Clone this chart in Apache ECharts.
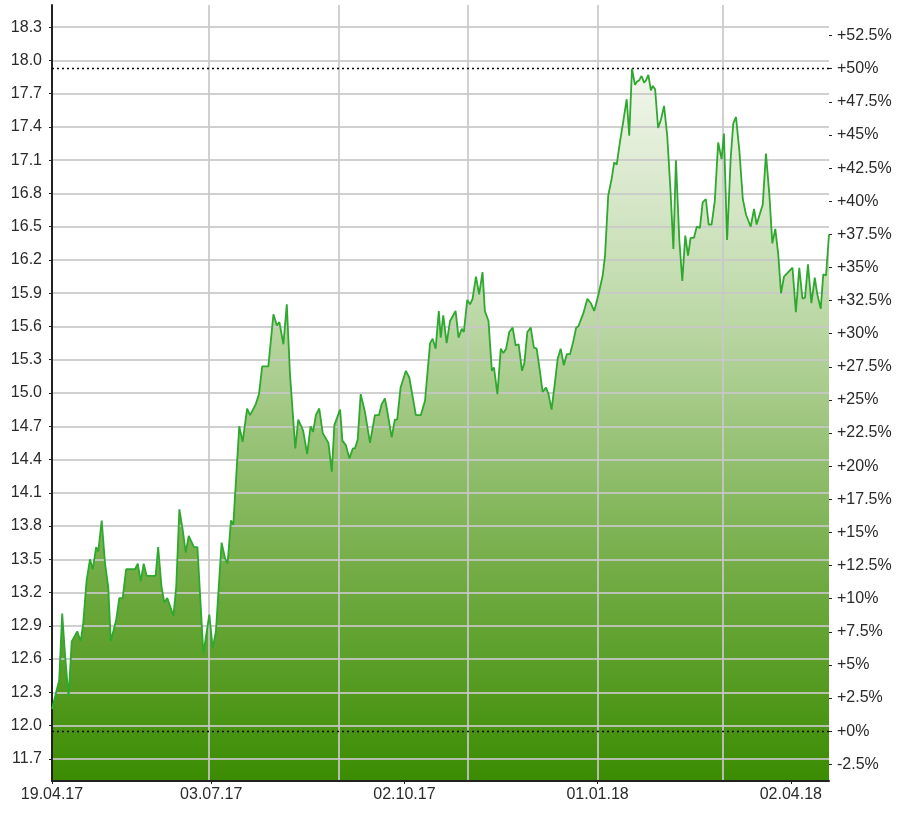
<!DOCTYPE html>
<html>
<head>
<meta charset="utf-8">
<script src="https://cdn.jsdelivr.net/npm/echarts@6/dist/echarts.min.js"></script>
<style>
html,body{margin:0;padding:0;background:#fff;}
#chart{width:904px;height:815px;}
</style>
</head>
<body>
<div id="chart"></div>
<script>
// ---- data ----
var startDate = '2017-04-19';
var endDayOffset = 366;
// day offsets (from startDate) of each plotted point
var dayOffsets = [
0,2.2,3.4,4.8,6.1,7.8,9.3,11.9,13.5,14.7,
16.3,17.9,19.2,20.8,21.8,23.4,25.0,26.5,27.7,30.2,
31.7,33.3,34.9,39.1,40.4,41.8,43.2,44.6,48.8,50.0,
51.6,52.9,54.3,57.2,58.5,60.0,61.6,63.0,64.4,66.9,
68.5,71.3,74.1,75.7,77.2,79.9,81.5,82.7,84.3,85.4,
88.2,89.8,91.9,93.3,96.0,97.5,99.0,101.9,104.3,105.9,
107.1,109.0,110.6,112.1,114.6,116.0,118.3,120.2,121.8,123.0,
124.3,125.9,127.5,130.2,131.8,133.0,135.7,136.8,138.4,140.1,
141.7,142.7,144.0,145.4,147.4,149.8,152.1,154.0,155.3,156.8,
157.9,160.0,161.5,162.6,164.2,166.7,168.3,171.4,173.7,175.7,
178.1,179.3,180.7,182.2,183.1,184.3,185.9,187.5,190.1,191.5,
193.0,194.0,195.6,196.9,198.1,199.7,201.2,202.8,203.9,205.6,
207.2,208.2,209.8,211.4,212.6,213.9,215.4,217.0,218.4,219.8,
221.4,222.5,223.9,225.5,227.0,228.3,229.8,231.1,232.7,233.9,
235.3,237.0,238.2,239.6,241.1,242.5,244.0,245.6,246.9,247.9,
250.3,252.2,253.8,255.4,257.3,259.4,260.5,262.0,263.6,264.8,
266.0,267.5,269.1,270.7,271.9,273.2,274.6,275.6,276.6,277.7,
278.9,279.8,280.9,282.1,283.0,284.1,285.5,286.9,288.3,289.8,
291.3,292.7,293.9,295.5,296.9,298.3,299.6,300.8,302.4,303.7,
305.2,306.5,308.0,309.3,310.7,312.2,313.8,315.4,316.5,318.0,
319.7,320.9,322.2,323.8,325.4,326.9,329.1,330.7,331.9,334.8,
336.3,337.9,339.3,340.7,342.1,343.4,344.8,346.8,348.8,350.4,
352.0,353.5,354.7,356.1,357.7,359.3,360.5,362.1,363.3,364.6,
366.0
];
var prices = [
12.15,12.32,12.41,13.01,12.65,12.26,12.76,12.85,12.76,12.92,
13.31,13.50,13.41,13.61,13.57,13.85,13.46,13.25,12.76,12.95,
13.15,13.15,13.41,13.41,13.46,13.30,13.46,13.35,13.35,13.61,
13.25,13.11,13.15,12.99,13.25,13.95,13.76,13.56,13.71,13.61,
13.61,12.65,13.00,12.70,12.85,13.65,13.51,13.46,13.85,13.81,
14.70,14.56,14.86,14.80,14.90,14.99,15.24,15.24,15.71,15.61,
15.64,15.44,15.80,15.17,14.50,14.76,14.66,14.45,14.70,14.65,
14.80,14.86,14.64,14.55,14.29,14.71,14.85,14.57,14.53,14.41,
14.50,14.50,14.58,14.99,14.83,14.55,14.80,14.80,14.90,14.95,
14.84,14.60,14.76,14.76,15.05,15.20,15.14,14.80,14.80,14.93,
15.45,15.49,15.40,15.74,15.50,15.70,15.45,15.65,15.74,15.50,
15.58,15.55,15.84,15.80,15.85,16.05,15.89,16.09,15.74,15.65,
15.20,15.23,14.99,15.40,15.36,15.40,15.55,15.59,15.43,15.44,
15.20,15.27,15.55,15.59,15.41,15.40,15.20,15.01,15.05,14.99,
14.85,15.11,15.31,15.40,15.25,15.35,15.35,15.47,15.59,15.60,
15.72,15.85,15.81,15.74,15.88,16.06,16.24,16.78,16.93,17.08,
17.06,17.26,17.45,17.65,17.32,17.925,17.78,17.81,17.82,17.86,
17.80,17.82,17.87,17.73,17.77,17.74,17.39,17.47,17.59,17.32,
16.84,16.30,17.10,16.38,16.01,16.42,16.24,16.40,16.40,16.50,
16.49,16.72,16.75,16.52,16.52,16.73,17.26,17.11,17.34,16.38,
17.12,17.43,17.49,17.18,16.75,16.61,16.50,16.66,16.52,16.70,
17.16,16.79,16.35,16.48,16.25,15.90,16.05,16.09,16.13,15.73,
16.13,15.85,15.86,16.16,15.81,16.04,15.89,15.76,16.07,16.06,
16.43
];
var basePrice = 11.95;     // 0% reference (lower dotted line)
var maxPrice = 17.925;     // period high (upper dotted line)
var priceMin = 11.5, priceMax = 18.5;
var priceTicks = [11.7,12.0,12.3,12.6,12.9,13.2,13.5,13.8,14.1,14.4,14.7,15.0,15.3,15.6,15.9,16.2,16.5,16.8,17.1,17.4,17.7,18.0,18.3];
var percentTicks = [-2.5,0,2.5,5,7.5,10,12.5,15,17.5,20,22.5,25,27.5,30,32.5,35,37.5,40,42.5,45,47.5,50,52.5];
var dateLabels = ['2017-04-19','2017-07-03','2017-10-02','2018-01-01','2018-04-02'];
var gridDates = ['2017-07-02','2017-09-01','2017-11-01','2018-01-01','2018-03-01'];

// ---- helpers ----
var DAY = 86400000;
function parseDate(s){var p=s.split('-');return Date.UTC(+p[0],+p[1]-1,+p[2]);}
var t0 = parseDate(startDate);
function pad(n){return (n<10?'0':'')+n;}
function fmtDate(v){var d=new Date(v);return pad(d.getUTCDate())+'.'+pad(d.getUTCMonth()+1)+'.'+pad(d.getUTCFullYear()%100);}
var seriesData = dayOffsets.map(function(d,i){return [t0+d*DAY, prices[i]];});
var xMin = t0, xMax = t0+endDayOffset*DAY;
var pctMin = (priceMin/basePrice-1)*100, pctMax = (priceMax/basePrice-1)*100;

var FONT = 'Liberation Sans, Arial, sans-serif';
var gridColor = 'rgba(200,200,200,0.85)';

var chart = echarts.init(document.getElementById('chart'), null, {renderer:'canvas'});
chart.setOption({
  animation:false,
  backgroundColor:'#fff',
  grid:{left:52,right:75,top:5,bottom:34,containLabel:false},
  xAxis:[{
    type:'value', min:xMin, max:xMax, position:'bottom', z:3,
    axisLine:{show:true,onZero:false,lineStyle:{color:'#222',width:2}},
    axisTick:{show:true,length:3,lineStyle:{color:'#222'},customValues:dateLabels.map(parseDate)},
    axisLabel:{show:true,customValues:dateLabels.map(parseDate),formatter:fmtDate,color:'#2a2a2a',fontSize:16,fontFamily:FONT,margin:6,hideOverlap:false},
    splitLine:{show:false}
  },{
    type:'value', min:xMin, max:xMax, position:'top', z:3,
    axisLine:{show:false},
    axisTick:{show:false,customValues:gridDates.map(parseDate)},
    axisLabel:{show:false},
    splitLine:{show:true,lineStyle:{color:gridColor,width:2}}
  }],
  yAxis:[{
    type:'value', min:priceMin, max:priceMax, position:'left', z:3,
    axisLine:{show:true,onZero:false,lineStyle:{color:'#222',width:2}},
    axisTick:{show:true,length:3,lineStyle:{color:'#222'},customValues:priceTicks},
    axisLabel:{customValues:priceTicks,formatter:function(v){return v.toFixed(1);},color:'#2a2a2a',fontSize:16,fontFamily:FONT,margin:10},
    splitLine:{show:true,lineStyle:{color:gridColor,width:2}}
  },{
    type:'value', min:pctMin, max:pctMax, position:'right', z:3,
    axisLine:{show:false},
    axisTick:{show:true,length:3,lineStyle:{color:'#222'},customValues:percentTicks},
    axisLabel:{customValues:percentTicks,formatter:function(v){return (v<0?'':'+')+v+'%';},color:'#2a2a2a',fontSize:16,fontFamily:FONT,margin:8},
    splitLine:{show:false}
  }],
  series:[{
    type:'line', xAxisIndex:0, yAxisIndex:0, z:1,
    data:seriesData, symbol:'none', silent:true,
    lineStyle:{width:0},
    areaStyle:{origin:'start',opacity:1,color:new echarts.graphic.LinearGradient(0,0,0,1,[
      {offset:0,color:'#f3f7ee'},
      {offset:0.35,color:'#bcd8a6'},
      {offset:0.7,color:'#74ad47'},
      {offset:1,color:'#3b8c02'}
    ])}
  },{
    type:'line', xAxisIndex:0, yAxisIndex:0, z:5,
    data:seriesData, symbol:'none', silent:true,
    lineStyle:{color:'#2ea82e',width:1.8},
    markLine:{silent:true,symbol:['none','none'],label:{show:false},
      lineStyle:{color:'#000',width:1.4,type:[2,3]},
      data:[{yAxis:maxPrice},{yAxis:basePrice}]}
  }]
});
</script>
</body>
</html>
